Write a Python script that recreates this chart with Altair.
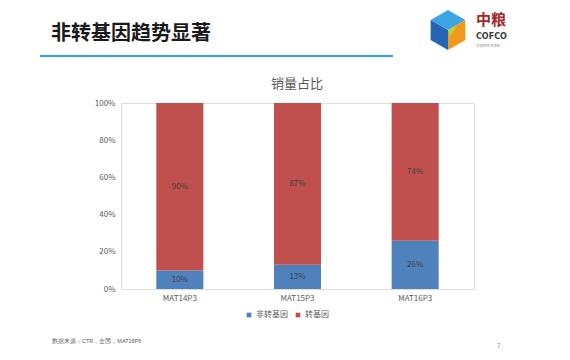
import altair as alt
import pandas as pd

categories = ["MAT14P3", "MAT15P3", "MAT16P3"]
series_names = ["非转基因", "转基因"]
non_gmo = [10, 13, 26]
gmo = [90, 87, 74]
y_ticks = [0, 0.2, 0.4, 0.6, 0.8, 1.0]

rows = []
for i, c in enumerate(categories):
    rows.append({"cat": c, "series": series_names[0], "value": non_gmo[i] / 100, "ord": 0, "label": f"{non_gmo[i]}%"})
    rows.append({"cat": c, "series": series_names[1], "value": gmo[i] / 100, "ord": 1, "label": f"{gmo[i]}%"})
df = pd.DataFrame(rows)

FONT = "Noto Sans CJK SC"
GRAY = "#595959"

x_axis = alt.Axis(labelAngle=0, ticks=False, domain=False, labelPadding=5,
                  labelFontSize=8, labelColor=GRAY, labelFont=FONT)
y_axis = alt.Axis(format=".0%", values=y_ticks, grid=False, ticks=False, domain=False,
                  labelOverlap=False, labelFlush=False, labelBound=False,
                  labelPadding=6, labelFontSize=8, labelColor=GRAY, labelFont=FONT)
x_scale = alt.Scale(paddingInner=0.6, paddingOuter=0.3)
y_scale = alt.Scale(domain=[0, 1], nice=False)

base = alt.Chart(df)

bars = base.mark_bar().encode(
    x=alt.X("cat:N", sort=categories, title=None, scale=x_scale, axis=x_axis),
    y=alt.Y("value:Q", stack="zero", title=None, scale=y_scale, axis=y_axis),
    color=alt.Color("series:N",
                    scale=alt.Scale(domain=series_names, range=["#4F81BD", "#C0504D"]),
                    legend=alt.Legend(title=None, orient="none", direction="horizontal",
                                      legendX=124, legendY=208, symbolType="square",
                                      symbolSize=22, symbolStrokeWidth=0,
                                      labelFontSize=8, labelColor=GRAY, labelFont=FONT,
                                      columnPadding=6, symbolOffset=0, labelOffset=3)),
    order=alt.Order("ord:Q", sort="ascending"),
)

labels = base.transform_stack(
    stack="value", groupby=["cat"], as_=["y0", "y1"],
    sort=[alt.SortField("ord", order="ascending")]
).transform_calculate(
    mid="(datum.y0 + datum.y1) / 2"
).mark_text(fontSize=8, color="#404040", font=FONT).encode(
    x=alt.X("cat:N", sort=categories, title=None, scale=x_scale, axis=x_axis),
    y=alt.Y("mid:Q", title=None, scale=y_scale, axis=y_axis),
    text="label:N",
)

def txt(s, x, y, size, color, weight="normal", align="left", font=FONT):
    return alt.Chart(pd.DataFrame({"t": [s]})).mark_text(
        fontSize=size, color=color, fontWeight=weight, align=align, baseline="middle", font=font
    ).encode(x=alt.value(x), y=alt.value(y), text="t:N")

slide_title = txt("非转基因趋势显著", -70, -69, 20, "#1a1a1a", weight="bold")
chart_title = txt("销量占比", 176, -19, 13, GRAY, align="center")
footnote = txt("数据来源：CTR，全国，MAT16P6", -69, 238, 5.5, GRAY, font="Liberation Sans")
page_num = txt("7", 376, 243, 6, "#888888")
logo_cn = txt("中粮", 355, -83, 15, "#A3262A", weight="bold")
logo_en = txt("COFCO", 355, -66, 8, "#3a3a3a", weight="bold", font="DejaVu Sans")
logo_slogan = txt("为您的生活添彩", 355, -57, 3.5, "#888888")

line = alt.Chart(pd.DataFrame({"a": [0]})).mark_rule(color="#2AA7E0", strokeWidth=2).encode(
    x=alt.value(-81), x2=alt.value(272), y=alt.value(-47))

# logo cube faces (decorative)
def face(path, color):
    return alt.Chart(pd.DataFrame({"a": [0]})).mark_point(
        shape=path, size=1600, filled=True, color=color, opacity=1, strokeWidth=0
    ).encode(x=alt.value(327), y=alt.value(-73))

cube = [
    face("M0,-1 L0.87,-0.5 L0,0 L-0.87,-0.5 Z", "#3DA5E3"),
    face("M-0.87,-0.5 L0,0 L0,1 L-0.87,0.5 Z", "#2466B4"),
    face("M0.87,-0.5 L0.87,0.5 L0,1 L0,0 Z", "#F39A1E"),
    face("M0,0 L0.45,-0.2 L0.1,0.35 Z", "#B7D433"),
]

chart = alt.layer(bars, labels, line, slide_title, chart_title, footnote, page_num,
                  *cube, logo_cn, logo_en, logo_slogan).properties(
    width=353, height=186,
    autosize=alt.AutoSizeParams(type="none"),
    padding={"left": 113, "top": 95, "right": 88, "bottom": 62},
).configure_view(stroke="#D8D8C6", strokeWidth=1).configure(background="white")

chart.save("out.html", embed_options={"renderer": "svg", "actions": False})
